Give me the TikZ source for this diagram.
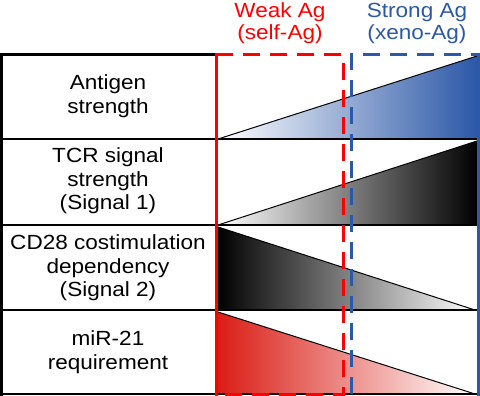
\documentclass[tikz,border=0pt]{standalone}
\usepackage{fontspec}
\setmainfont{Liberation Sans}[FakeStretch=1.1]
\usetikzlibrary{positioning}
\definecolor{weakred}{RGB}{255,0,0}
\definecolor{wedgered}{RGB}{218,30,22}
\definecolor{strongblue}{RGB}{44,88,168}
\tikzset{rowlabel/.style={align=center, font=\fontsize{20.5}{23.5}\selectfont},
         headlabel/.style={align=center, font=\fontsize{20.5}{22}\selectfont},
         wedgeline/.style={draw=black, line width=1pt},
         agdash/.style={line width=3pt, dash pattern=on 17pt off 10pt}}

\begin{document}
\begin{tikzpicture}[x=1pt,y=-1pt]
\useasboundingbox (0,0) rectangle (480,396);

% wedges
\shade[left color=white, right color=strongblue] (218,139) -- (477,56) -- (477,139) -- cycle;
\draw[wedgeline] (218,139) -- (477,56);
\shade[left color=white, right color=black] (218,225) -- (477,141) -- (477,225) -- cycle;
\draw[wedgeline] (218,225) -- (477,141);
\shade[left color=black, right color=white] (218,227) -- (218,310) -- (475,310) -- cycle;
\draw[wedgeline] (218,227) -- (475,310);
\shade[left color=wedgered, right color=white] (218,312) -- (218,394) -- (475,394) -- cycle;
\draw[wedgeline] (218,312) -- (475,394);

% table
\foreach \y in {139,225,310}{
    \draw[line width=1.2pt] (0,\y) -- (478,\y);
}
\draw[line width=1.5pt] (0,394) -- (478,394);
\draw[line width=3pt] (0,54.5) -- (216,54.5);
\draw[line width=3pt] (1.5,53) -- (1.5,396);

% row labels
\node[rowlabel] (antigen) at (108,96) {Antigen\\strength};
\node[rowlabel] (tcr) at (108,181) {TCR signal\\strength\\(Signal 1)};
\node[rowlabel] (cd28) at (108,268) {CD28 costimulation\\dependency\\(Signal 2)};
\node[rowlabel] (mir) at (108,352) {miR-21\\requirement};

% weak / strong boxes
\draw[weakred, line width=3pt] (216,53) -- (216,396);
\draw[weakred, agdash] (216,55) -- (343,55) -- (343,394) -- (216,394);
\draw[strongblue, agdash] (351,394) -- (351,55) -- (478,55);
\draw[strongblue, line width=3pt] (478,53.5) -- (478,396);

\node[headlabel, text=weakred] (weak) at (280,23) {Weak Ag\\(self-Ag)};
\node[headlabel, text=strongblue] (strong) at (417,23) {Strong Ag\\(xeno-Ag)};
\end{tikzpicture}
\end{document}
